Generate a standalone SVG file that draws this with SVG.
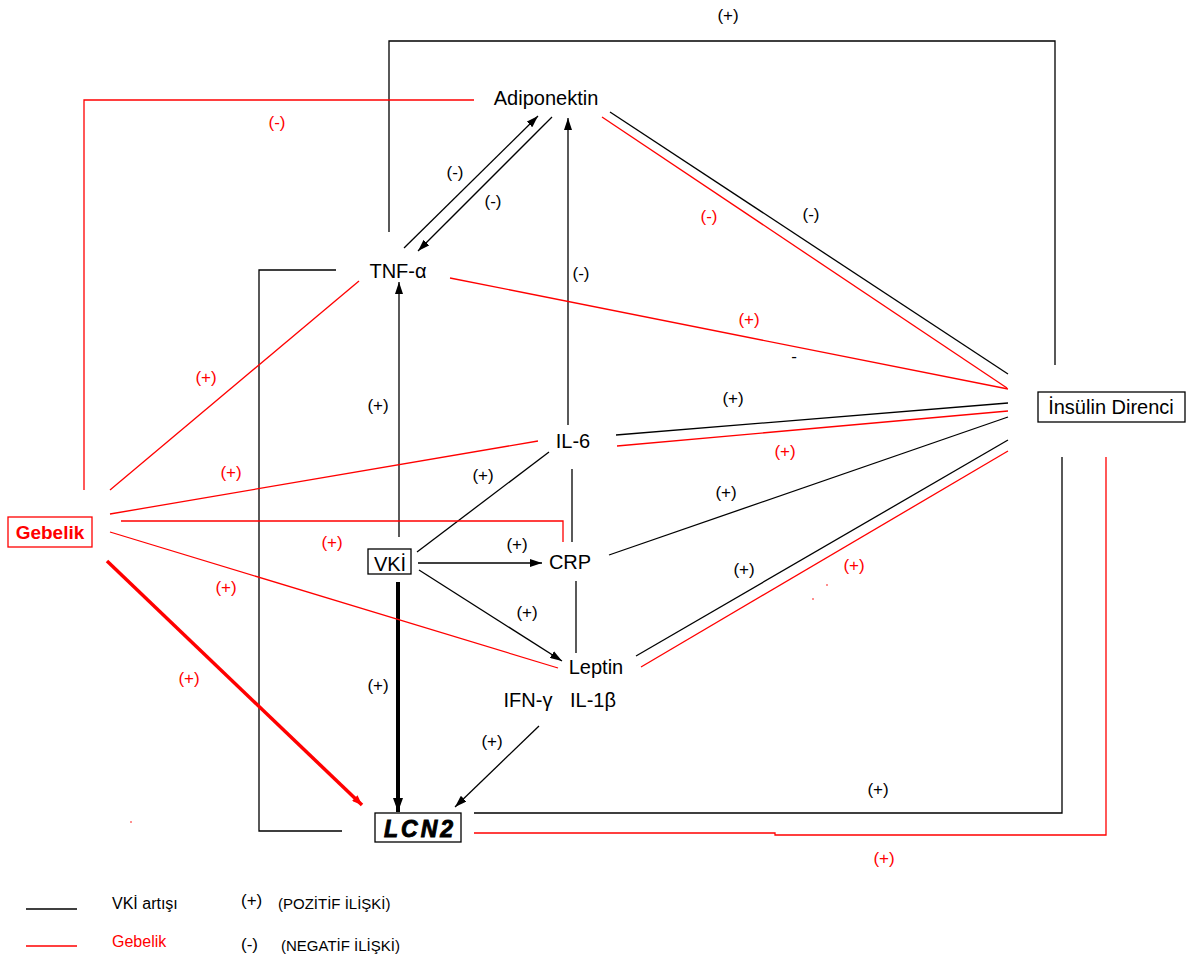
<svg xmlns="http://www.w3.org/2000/svg" width="1193" height="962" viewBox="0 0 1193 962">
<style>
.k{stroke:#000;stroke-width:1.3;fill:none}
.r{stroke:#ff0000;stroke-width:1.3;fill:none}
.n{font-family:"Liberation Sans",Arial,sans-serif;font-size:20px;fill:#000;text-anchor:middle}
.lb{font-family:"Liberation Sans",Arial,sans-serif;font-size:17px;fill:#000;text-anchor:middle}
.lr{font-family:"Liberation Sans",Arial,sans-serif;font-size:17px;fill:#ff0000;text-anchor:middle}
.box{fill:#fff;stroke:#000;stroke-width:1.3}
.lg{font-family:"Liberation Sans",Arial,sans-serif;font-size:15px;fill:#000}
</style>
<defs>
<marker id="ah" markerUnits="userSpaceOnUse" markerWidth="12" markerHeight="8" refX="12" refY="4" orient="auto"><path d="M0,0 L12,4 L0,8 z" fill="#000"/></marker>
<marker id="ahb" markerUnits="userSpaceOnUse" markerWidth="14" markerHeight="10" refX="14" refY="5" orient="auto"><path d="M0,0 L14,5 L0,10 z" fill="#000"/></marker>
<marker id="ahr" markerUnits="userSpaceOnUse" markerWidth="10" markerHeight="8" refX="10" refY="4" orient="auto"><path d="M0,0 L10,4 L0,8 z" fill="#ff0000"/></marker>
</defs>
<rect width="1193" height="962" fill="#fff"/>
<g id="connectors">
<polyline class="k" points="389,232 389,41 1055,41 1055,365"/>
<line class="k" x1="404" y1="248" x2="538" y2="116" marker-end="url(#ah)"/>
<line class="k" x1="552" y1="117" x2="418" y2="251" marker-end="url(#ah)"/>
<line class="k" x1="568" y1="425" x2="568" y2="118" marker-end="url(#ah)"/>
<line class="k" x1="610" y1="112" x2="1008" y2="374"/>
<polyline class="k" points="336,270 259,270 259,831 342,831"/>
<line class="k" x1="399" y1="537" x2="399" y2="282" marker-end="url(#ah)"/>
<line class="k" x1="417" y1="552" x2="549" y2="452"/>
<line class="k" x1="418" y1="563" x2="542" y2="563" marker-end="url(#ah)"/>
<line class="k" x1="419" y1="570" x2="562" y2="661" marker-end="url(#ah)"/>
<line class="k" x1="572" y1="469" x2="572" y2="542"/>
<line class="k" x1="576" y1="581" x2="576" y2="653"/>
<line class="k" style="stroke-width:4" x1="398" y1="582" x2="398" y2="812" marker-end="url(#ahb)"/>
<line class="k" x1="539" y1="726" x2="455" y2="807" marker-end="url(#ah)"/>
<line class="k" x1="616" y1="435" x2="1008" y2="403"/>
<line class="k" x1="609" y1="555" x2="1008" y2="417"/>
<line class="k" x1="636" y1="656" x2="1008" y2="440"/>
<polyline class="k" points="474,813 1062,813 1062,457"/>
<polyline class="r" points="474,100 84,100 84,490"/>
<line class="r" x1="602" y1="117" x2="1007" y2="388"/>
<line class="r" x1="450" y1="278" x2="1008" y2="389"/>
<line class="r" x1="110" y1="490" x2="359" y2="281"/>
<line class="r" x1="110" y1="514" x2="538" y2="441"/>
<polyline class="r" points="121,521 563,521 563,542"/>
<line class="r" x1="110" y1="532" x2="558" y2="668"/>
<line class="r" style="stroke-width:3.5" x1="107" y1="561" x2="362" y2="805" marker-end="url(#ahr)"/>
<line class="r" x1="617" y1="446" x2="1008" y2="411"/>
<line class="r" x1="641" y1="667" x2="1008" y2="451"/>
<polyline class="r" points="474,833 775,833 775,835 1106,835 1106,457"/>
</g>
<g id="labels">
<text class="lb" x="728" y="21">(+)</text>
<text class="lr" x="277" y="128">(-)</text>
<text class="lb" x="455" y="178">(-)</text>
<text class="lb" x="493" y="207">(-)</text>
<text class="lb" x="581" y="279">(-)</text>
<text class="lr" x="709" y="222">(-)</text>
<text class="lb" x="811" y="220">(-)</text>
<text class="lr" x="749" y="325">(+)</text>
<text class="lb" x="794" y="362">-</text>
<text class="lb" x="733" y="404">(+)</text>
<text class="lr" x="785" y="457">(+)</text>
<text class="lb" x="726" y="498">(+)</text>
<text class="lb" x="744" y="575">(+)</text>
<text class="lr" x="854" y="571">(+)</text>
<text class="lr" x="206" y="383">(+)</text>
<text class="lb" x="378" y="411">(+)</text>
<text class="lr" x="231" y="478">(+)</text>
<text class="lb" x="483" y="481">(+)</text>
<text class="lr" x="332" y="548">(+)</text>
<text class="lb" x="517" y="550">(+)</text>
<text class="lr" x="226" y="593">(+)</text>
<text class="lb" x="527" y="618">(+)</text>
<text class="lr" x="189" y="684">(+)</text>
<text class="lb" x="378" y="691">(+)</text>
<text class="lb" x="492" y="747">(+)</text>
<text class="lb" x="878" y="795">(+)</text>
<text class="lr" x="884" y="864">(+)</text>
<circle cx="131" cy="822" r="0.8" fill="#ff0000"/>
<circle cx="827" cy="585" r="0.8" fill="#ff0000"/>
<circle cx="813" cy="599" r="0.8" fill="#ff0000"/>
</g>
<g id="adiponektin"><text class="n" x="546" y="105">Adiponektin</text></g>
<g id="tnf"><text class="n" x="398" y="278">TNF-α</text></g>
<g id="il6"><text class="n" x="573" y="448">IL-6</text></g>
<g id="crp"><text class="n" x="570" y="569">CRP</text></g>
<g id="vki"><rect class="box" x="368" y="549" width="43" height="25"/><text class="n" x="390" y="571">VKİ</text></g>
<g id="leptin"><text class="n" x="596" y="674">Leptin</text></g>
<g id="il1b"><text class="n" x="593" y="707">IL-1β</text></g>
<g id="ifng"><text class="n" x="528" y="707">IFN-γ</text></g>
<g id="lcn2"><rect class="box" x="375" y="813" width="86" height="29"/><text x="420" y="837" style="font-family:'Liberation Sans',Arial,sans-serif;font-size:23px;font-weight:bold;font-style:italic;letter-spacing:3px;text-anchor:middle;fill:#000;stroke:#000;stroke-width:0.9">LCN2</text></g>
<g id="insulin"><rect class="box" x="1038" y="392" width="147" height="30"/><text class="n" x="1111" y="414">İnsülin Direnci</text></g>
<g id="gebelik"><rect x="8" y="517" width="84" height="30" fill="#fff" stroke="#ff0000" stroke-width="1.3"/><text x="50" y="539" style="font-family:'Liberation Sans',Arial,sans-serif;font-size:19px;font-weight:bold;fill:#ff0000;text-anchor:middle">Gebelik</text></g>
<g id="legend">
<line x1="26" y1="909" x2="77" y2="909" stroke="#000" stroke-width="1.3"/>
<line x1="26" y1="946" x2="77" y2="946" stroke="#ff0000" stroke-width="1.3"/>
<text class="lg" x="112" y="909" style="font-size:16px">VKİ artışı</text>
<text class="lg" x="112" y="947" style="font-size:16px;fill:#ff0000">Gebelik</text>
<text class="lg" x="241" y="906" style="font-size:17px">(+)</text>
<text class="lg" x="278" y="909">(POZİTİF İLİŞKİ)</text>
<text class="lg" x="241" y="950" style="font-size:17px">(-)</text>
<text class="lg" x="281" y="951">(NEGATİF İLİŞKİ)</text>
</g>
</svg>
